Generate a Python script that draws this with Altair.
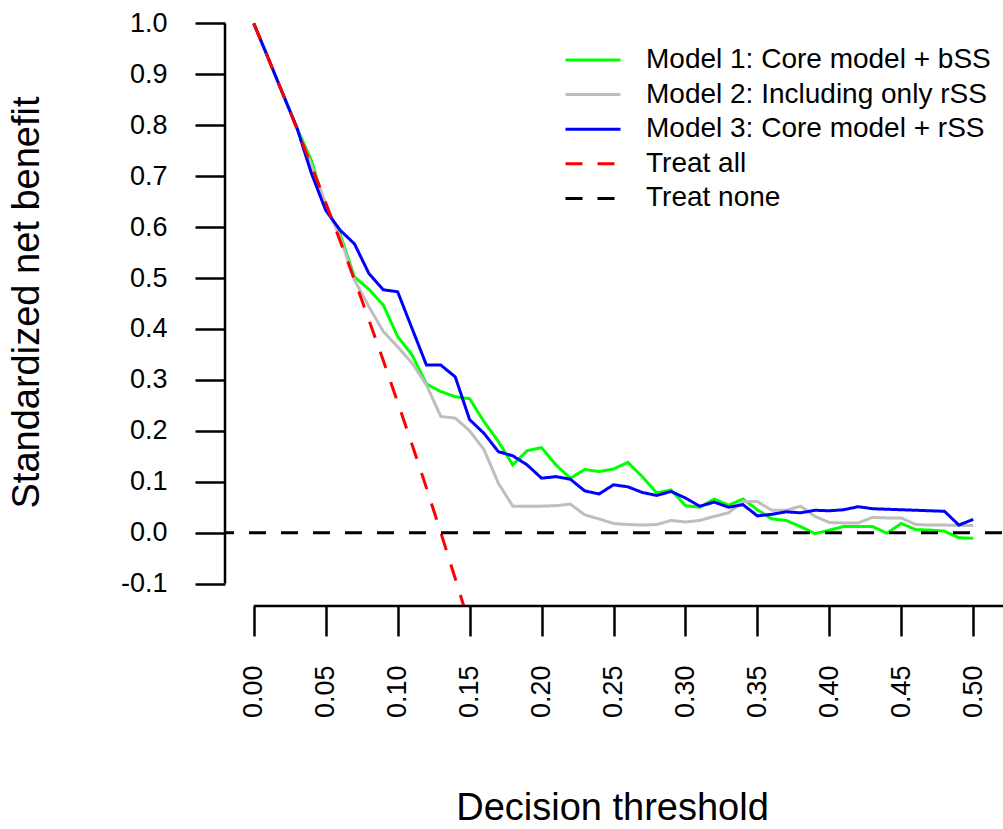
import altair as alt
import pandas as pd

thresholds = [round(i * 0.01, 2) for i in range(51)]

model1 = [1.0, 0.932, 0.863, 0.795, 0.731, 0.640, 0.586, 0.502, 0.478, 0.447,
          0.385, 0.349, 0.292, 0.277, 0.267, 0.263, 0.218, 0.179, 0.133, 0.161,
          0.167, 0.133, 0.107, 0.124, 0.120, 0.125, 0.138, 0.110, 0.078, 0.084,
          0.053, 0.050, 0.066, 0.054, 0.066, 0.045, 0.027, 0.024, 0.012, -0.002,
          0.005, 0.012, 0.012, 0.012, -0.001, 0.018, 0.006, 0.005, 0.003, -0.010,
          -0.011]
model2 = [1.0, 0.932, 0.863, 0.793, 0.722, 0.645, 0.580, 0.496, 0.444, 0.395,
          0.365, 0.333, 0.290, 0.228, 0.225, 0.200, 0.163, 0.097, 0.052, 0.052,
          0.052, 0.053, 0.056, 0.035, 0.027, 0.018, 0.016, 0.015, 0.016, 0.024,
          0.021, 0.024, 0.032, 0.039, 0.061, 0.061, 0.044, 0.044, 0.052, 0.032,
          0.020, 0.019, 0.019, 0.030, 0.029, 0.029, 0.016, 0.015, 0.015, 0.014,
          0.014]
model3 = [1.0, 0.932, 0.863, 0.795, 0.706, 0.633, 0.594, 0.567, 0.509, 0.477,
          0.473, 0.401, 0.329, 0.329, 0.306, 0.222, 0.195, 0.159, 0.151, 0.133,
          0.107, 0.110, 0.105, 0.082, 0.076, 0.094, 0.090, 0.079, 0.073, 0.081,
          0.068, 0.052, 0.060, 0.050, 0.055, 0.033, 0.036, 0.041, 0.039, 0.044,
          0.043, 0.045, 0.051, 0.047, 0.046, 0.045, 0.044, 0.043, 0.042, 0.015,
          0.026]
treat_all_x = [0.00, 0.01, 0.02, 0.03, 0.04, 0.05, 0.06, 0.07, 0.08, 0.09,
               0.10, 0.11, 0.12, 0.13, 0.14, 0.15]
treat_all = [1.0, 0.932, 0.863, 0.793, 0.721, 0.648, 0.573, 0.496, 0.418, 0.338,
             0.256, 0.173, 0.088, 0.000, -0.090, -0.181]
treat_none = [0.0]

series_names = ["Model 1: Core model + bSS", "Model 2: Including only rSS",
                "Model 3: Core model + rSS", "Treat all", "Treat none"]
series_colors = ["#00FF00", "#BEBEBE", "#0000FF", "#FF0000", "#000000"]
series_dash = [[1, 0], [1, 0], [1, 0], [17, 15], [17, 15]]

x_ticks = [0.0, 0.05, 0.1, 0.15, 0.2, 0.25, 0.3, 0.35, 0.4, 0.45, 0.5]
y_ticks = [-0.1, 0.0, 0.1, 0.2, 0.3, 0.4, 0.5, 0.6, 0.7, 0.8, 0.9, 1.0]

FONT = "Liberation Sans"
W, H = 777, 605

def frame(xs, ys, name):
    return pd.DataFrame({"t": xs, "nb": ys, "series": name})

def make_legend():
    return alt.Legend(orient="none", legendX=354, legendY=45, title=None,
                      symbolType="M-5,0H5", symbolSize=121, symbolStrokeWidth=3,
                      labelFont=FONT, labelFontSize=28, labelColor="black",
                      labelLimit=0, labelOffset=39, rowPadding=6.6, padding=0)

color_enc = alt.Color("series:N", scale=alt.Scale(domain=series_names, range=series_colors),
                      legend=make_legend())
dash_enc = alt.StrokeDash("series:N", scale=alt.Scale(domain=series_names, range=series_dash),
                          legend=make_legend())

x_enc = alt.X("t:Q", scale=alt.Scale(domain=[-0.02, 0.52], nice=False, zero=False),
              axis=alt.Axis(values=x_ticks, format=".2f", labelAngle=270, tickSize=30,
                            tickWidth=2.5, tickColor="black", domain=False, grid=False,
                            labelFont=FONT, labelFontSize=27, labelColor="black",
                            labelPadding=29, labelFlush=False, labelOverlap=False,
                            title="Decision threshold", titleFont=FONT, titleFontSize=38,
                            titleFontWeight="normal", titleColor="black", titleX=387,
                            titleY=213, titleAlign="center", titleBaseline="alphabetic"))
y_enc = alt.Y("nb:Q", scale=alt.Scale(domain=[-0.144, 1.044], nice=False, zero=False),
              axis=alt.Axis(values=y_ticks,
                            labelExpr="datum.value < -0.0001 ? '-' + format(-datum.value, '.1f') : format(abs(datum.value), '.1f')",
                            tickSize=30, tickWidth=2.5, tickColor="black", domain=False,
                            grid=False, labelFont=FONT, labelFontSize=27, labelColor="black",
                            labelPadding=28, labelFlush=False, labelOverlap=False,
                            title="Standardized net benefit", titleFont=FONT,
                            titleFontSize=38, titleFontWeight="normal", titleColor="black",
                            titleAngle=270, titleX=-187, titleY=301, titleAlign="center",
                            titleBaseline="alphabetic"))

layers = []
for xs, ys, name in [(thresholds, model1, series_names[0]),
                     (thresholds, model2, series_names[1]),
                     (thresholds, model3, series_names[2]),
                     (treat_all_x, treat_all, series_names[3])]:
    layers.append(
        alt.Chart(frame(xs, ys, name)).mark_line(strokeWidth=3, clip=True).encode(
            x=x_enc, y=y_enc, color=color_enc, strokeDash=dash_enc)
    )

none_df = pd.DataFrame({"nb": treat_none, "series": [series_names[4]]})
layers.append(
    alt.Chart(none_df).mark_rule(strokeWidth=3).encode(
        y=alt.Y("nb:Q"), color=color_enc, strokeDash=dash_enc)
)

axis_df = pd.DataFrame({"lo": [y_ticks[0]], "hi": [y_ticks[-1]], "x0": [x_ticks[0]]})
yaxis_line = alt.Chart(axis_df).mark_rule(color="black", strokeWidth=2.5).encode(
    x=alt.value(0), y=alt.Y("lo:Q"), y2=alt.Y2("hi:Q"))
xaxis_line = alt.Chart(axis_df).mark_rule(color="black", strokeWidth=2.5).encode(
    x=alt.X("x0:Q"), x2=alt.value(W + 2), y=alt.value(H))

chart = alt.layer(*layers, yaxis_line, xaxis_line).properties(
    width=W, height=H,
    autosize=alt.AutoSizeParams(type="none"),
    padding={"left": 225, "top": 1, "right": 1, "bottom": 223},
    background="white",
).configure_view(stroke=None)

chart.save("out.html", embed_options={"renderer": "svg", "actions": False})
